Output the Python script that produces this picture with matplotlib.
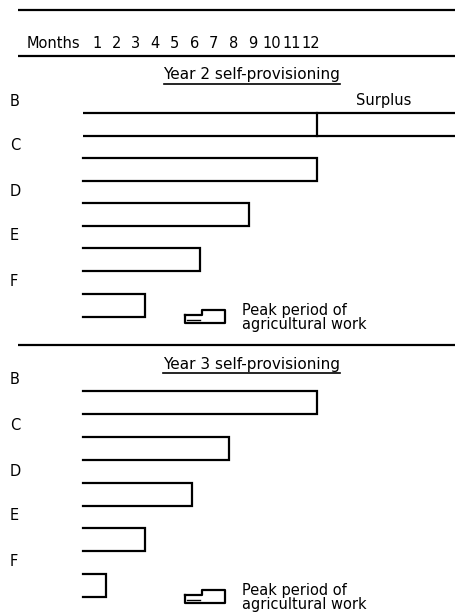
# self-provisioning chart: months of own food per household, years 2 and 3
import numpy as np
import matplotlib
matplotlib.use('agg')
import matplotlib.pyplot as plt

households = ['B', 'C', 'D', 'E', 'F']
months = [str(m) for m in range(1, 13)]
year2 = [12, 12, 8.5, 6, 3.2]      # B has a surplus beyond 12 months
year3 = [12, 7.5, 5.6, 3.2, 1.2]
year2_surplus = [True, False, False, False, False]

W, H = 456, 613
fig = plt.figure(figsize=(W/100, H/100), dpi=100)

# frame axes in pixels, for rules and text
fr = fig.add_axes([0, 0, 1, 1])
fr.set_xlim(0, W)
fr.set_ylim(H, 0)
fr.axis('off')

# bar axes: x in months, y in pixels
x0, ppm = 83, 19.5
ax = fig.add_axes([0, 0, 1, 1])
ax.set_xlim(-x0/ppm, (W - x0)/ppm)
ax.set_ylim(H, 0)
ax.axis('off')
ax.patch.set_alpha(0)

lw = 1.6
fs = 10.5
for y in [10, 56, 345]:
	fr.plot([18, W], [y, y], color='black', lw=lw, solid_capstyle='butt')

fr.text(27, 44, 'Months', fontsize=fs, va='center', ha='left')
for i, m in enumerate(months):
	ax.text(i + 1 - 0.3, 44, m, fontsize=fs, va='center', ha='center')

def panel(title, ty, tops, vals, surplus, leg_y):
	t = fr.text(252, ty, title, fontsize=fs + 0.5, ha='center', va='center')
	fig.canvas.draw()
	bb = t.get_window_extent().transformed(fr.transData.inverted())
	fr.plot([bb.x0, bb.x1], [ty + 9, ty + 9], color='black', lw=1.2)
	bh = 22.5
	xr = ax.get_xlim()[1]
	for lab, top, v, s in zip(households, tops, vals, surplus):
		fr.text(10, top - 12, lab, fontsize=fs, va='center', ha='left')
		if s:
			ax.plot([0, xr], [top, top], color='black', lw=lw, solid_capstyle='butt')
			ax.plot([0, xr], [top + bh, top + bh], color='black', lw=lw, solid_capstyle='butt')
			ax.plot([v, v], [top, top + bh], color='black', lw=lw)
			ax.text(v + 2.0, top - 12, 'Surplus', fontsize=fs, va='center', ha='left')
		else:
			ax.plot([0, v, v, 0], [top, top, top + bh, top + bh], color='black', lw=lw,
					solid_joinstyle='miter')
	# legend symbol
	ly = leg_y
	fr.plot([185, 202, 202, 225, 225, 185, 185], [ly + 5, ly + 5, ly, ly, ly + 13, ly + 13, ly + 5],
			color='black', lw=lw, solid_joinstyle='round')
	fr.plot([187, 200], [ly + 10, ly + 10], color='black', lw=1.0)
	fr.text(242, ly + 1, 'Peak period of', fontsize=fs, va='center', ha='left')
	fr.text(242, ly + 15, 'agricultural work', fontsize=fs, va='center', ha='left')

panel('Year 2 self-provisioning', 75, [113, 158, 203, 248, 294], year2, year2_surplus, 310)
panel('Year 3 self-provisioning', 364, [391, 437, 483, 528, 574], year3, [False]*5, 590)

fig.savefig('out.png', dpi=100)
